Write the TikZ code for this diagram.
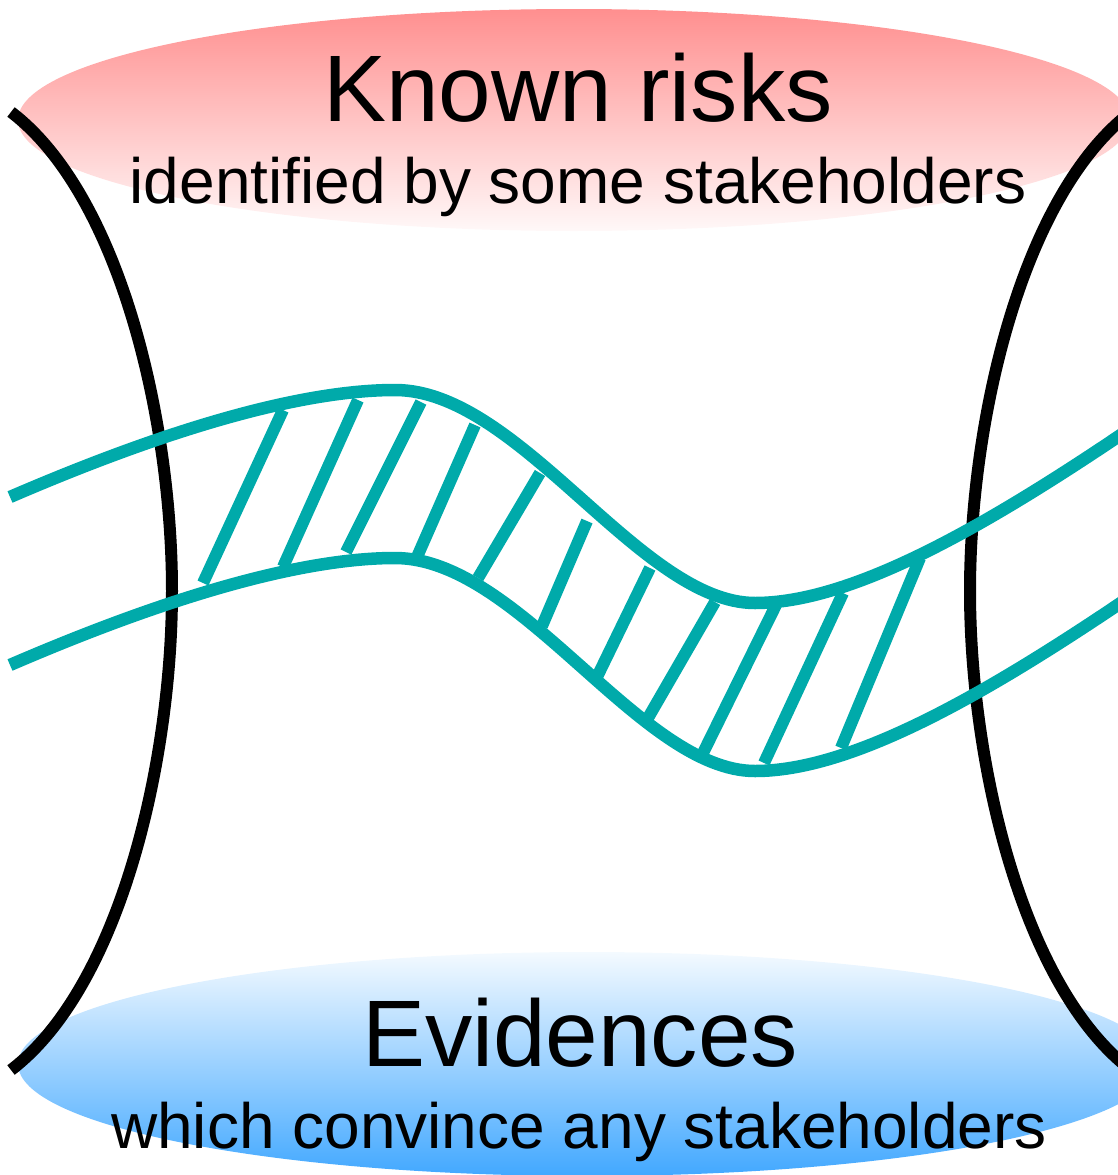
\documentclass[tikz,border=0pt]{standalone}
\usepackage{fontspec}
\setmainfont{Liberation Sans}
\usetikzlibrary{shadings}
\definecolor{bandteal}{RGB}{0,170,170}
\definecolor{risktop}{RGB}{255,143,143}
\definecolor{riskbottom}{RGB}{255,248,248}
\definecolor{evidtop}{RGB}{244,250,255}
\definecolor{evidbottom}{RGB}{66,168,255}
\tikzset{
  wall/.style={line width=12pt, black},
  band/.style={line width=12.5pt, bandteal},
  hatchline/.style={line width=12pt, bandteal, line cap=butt},
  bigtext/.style={anchor=base, inner sep=0pt, font=\fontsize{94.5pt}{100pt}\selectfont},
  smalltext/.style={anchor=base, inner sep=0pt, font=\fontsize{64pt}{70pt}\selectfont},
}
\begin{document}
\begin{tikzpicture}[x=1pt, y=-1pt]
\useasboundingbox (0,0) rectangle (1118,1175);

% shaded ellipses
\shade[top color=risktop, bottom color=riskbottom]
  (574,120) ellipse [x radius=556pt, y radius=111pt];
\shade[top color=evidtop, bottom color=evidbottom]
  (587,1064) ellipse [x radius=569pt, y radius=112pt];

% labels
\node[bigtext]   (known) at (578,121)  {Known risks};
\node[smalltext] (ident) at (578,203)  {identified by some stakeholders};
\node[bigtext]   (evid)  at (580,1066) {Evidences};
\node[smalltext] (conv)  at (579,1148) {which convince any stakeholders};

% the two walls
\draw[wall] (11,112) .. controls (120,195) and (172,420) .. (172,591)
            .. controls (172,762) and (120,987) .. (11,1070);
\draw[wall] (1131,112) .. controls (1022,195) and (970,420) .. (970,591)
            .. controls (970,762) and (1022,987) .. (1131,1070);

% the band
\draw[band] (10,497) .. controls (200,415) and (320,390) .. (395,390)
            .. controls (520,390) and (640,603) .. (755,603)
            .. controls (850,603) and (980,530) .. (1125,432);
\draw[band] (10,665) .. controls (200,583) and (320,558) .. (395,558)
            .. controls (520,558) and (640,771) .. (755,771)
            .. controls (850,771) and (980,698) .. (1125,600);

% hatching between the band edges
\foreach \tx/\ty/\bx/\by in {
  283/410/203/583, 358/400/283/567, 421/402/346/552, 475/425/417/557,
  540/473/478/578, 587/521/542/626, 650/568/597/677, 715/602/648/718,
  776/605/703/753, 843/593/764/763, 920/558/841/748}
  \draw[hatchline] (\tx,\ty) -- (\bx,\by);
\end{tikzpicture}
\end{document}
